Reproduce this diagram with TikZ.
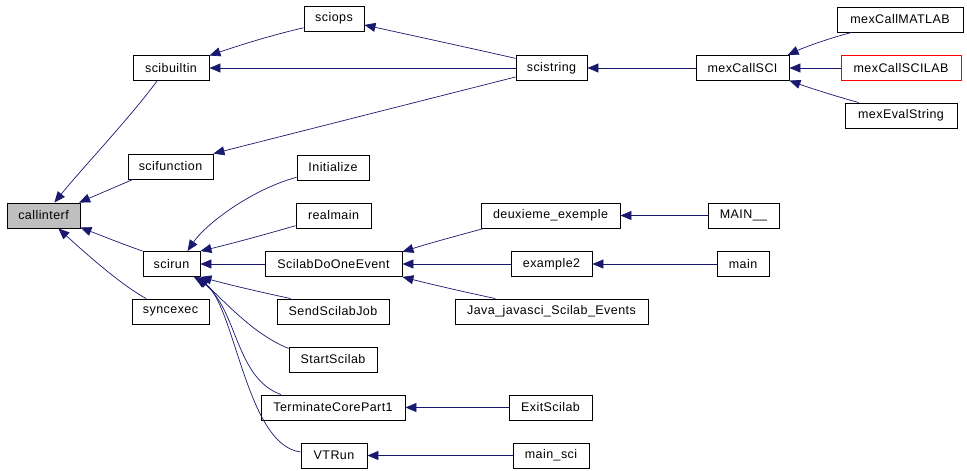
\documentclass[tikz,border=0pt]{standalone}
\usepackage{fontspec}
\setmainfont[LetterSpace=3.5]{Liberation Sans}
\usetikzlibrary{arrows.meta}
\definecolor{edgecol}{HTML}{191970}
\definecolor{graybox}{HTML}{BFBFBF}
\tikzset{
  box/.style={draw=black, line width=0.9pt, inner sep=0pt, minimum height=25pt, font=\fontsize{12.5}{15}\selectfont},
  edge/.style={draw=edgecol, line width=0.7pt, -{Triangle[length=11pt,width=9pt]}}
}
\begin{document}
\begin{tikzpicture}[x=1pt,y=-1pt]
\fill[white] (0,0) rectangle (967,471);
\useasboundingbox (0,0) rectangle (967,471);
\node[box,fill=graybox,minimum width=73pt] (callinterf) at (43.5,215.5) {callinterf};
\node[box,minimum width=76pt] (scibuiltin) at (171,68) {scibuiltin};
\node[box,minimum width=60pt] (sciops) at (334,18.5) {sciops};
\node[box,minimum width=85pt] (scifunction) at (170.5,166.5) {scifunction};
\node[box,minimum width=57pt] (scirun) at (171.5,264) {scirun};
\node[box,minimum width=77pt] (syncexec) at (170.5,311.5) {syncexec};
\node[box,minimum width=72pt] (Initialize) at (333,167.5) {Initialize};
\node[box,minimum width=75pt] (realmain) at (333.5,215.5) {realmain};
\node[box,minimum width=137pt] (ScilabDoOneEvent) at (333.5,264) {ScilabDoOneEvent};
\node[box,minimum width=112pt] (SendScilabJob) at (333,311.5) {SendScilabJob};
\node[box,minimum width=88pt] (StartScilab) at (333,359.5) {StartScilab};
\node[box,minimum width=144pt] (TerminateCorePart1) at (333,407.5) {TerminateCorePart1};
\node[box,minimum width=66pt] (VTRun) at (334,455.5) {VTRun};
\node[box,minimum width=71pt] (scistring) at (551.5,68) {scistring};
\node[box,minimum width=139pt] (deuxieme) at (550.5,215.5) {deuxieme\_exemple};
\node[box,minimum width=81pt] (example2) at (551.5,264) {example2};
\node[box,minimum width=193pt] (Java) at (551.5,311.5) {Java\_javasci\_Scilab\_Events};
\node[box,minimum width=83pt] (ExitScilab) at (550.5,407.5) {ExitScilab};
\node[box,minimum width=76pt] (mainsci) at (551,455.5) {main\_sci};
\node[box,minimum width=93pt] (mexCallSCI) at (742.5,68) {mexCallSCI};
\node[box,minimum width=71pt] (MAIN) at (743.5,215.5) {MAIN\_\_};
\node[box,minimum width=52pt] (main) at (743,264) {main};
\node[box,minimum width=126pt] (mexCallMATLAB) at (900,19.5) {mexCallMATLAB};
\node[box,draw=red,minimum width=120pt] (mexCallSCILAB) at (901,68) {mexCallSCILAB};
\node[box,minimum width=112pt] (mexEvalString) at (901,115.5) {mexEvalString};

\draw[edge] (scibuiltin.223) .. controls (128,120) and (85,165) .. (callinterf.50);
\draw[edge] (scifunction.199) -- (callinterf.20.5);
\draw[edge] (scirun.north west) .. controls (125,245) and (105,237) .. (callinterf.-18);
\draw[edge] (syncexec.152) .. controls (125,287) and (95,262) .. (callinterf.-41);
\draw[edge] (sciops.197.6) .. controls (285,32) and (255,40) .. (scibuiltin.18.4);
\draw[edge] (scistring) -- (scibuiltin);
\draw[edge] (scistring.165.8) .. controls (470,48) and (410,35) .. (sciops.-12);
\draw[edge] (scistring.194) -- (scifunction.north east);
\draw[edge] (mexCallSCI) -- (scistring);
\draw[edge] (mexCallMATLAB.195.5) .. controls (830,38) and (805,47) .. (mexCallSCI.16.4);
\draw[edge] (mexCallSCILAB) -- (mexCallSCI);
\draw[edge] (mexEvalString.163.8) .. controls (835,96) and (810,88) .. (mexCallSCI.-15.4);
\draw[edge] (Initialize.195) .. controls (250,190) and (205,225) .. (scirun.39);
\draw[edge] (realmain.195.6) .. controls (260,236) and (230,244) .. (scirun.north east);
\draw[edge] (ScilabDoOneEvent) -- (scirun);
\draw[edge] (SendScilabJob.163) .. controls (260,292) and (230,285) .. (scirun.south east);
\draw[edge] (StartScilab.166.6) .. controls (255,335) and (228,305) .. (scirun.-26);
\draw[edge] (TerminateCorePart1.166.7) .. controls (235,378) and (238,310) .. (scirun.-28);
\draw[edge] (VTRun.174) .. controls (245,445) and (235,300) .. (scirun.-30);
\draw[edge] (deuxieme.191.4) .. controls (460,235) and (430,243) .. (ScilabDoOneEvent.10.2);
\draw[edge] (example2) -- (ScilabDoOneEvent);
\draw[edge] (Java.167.9) .. controls (460,291) and (430,284) .. (ScilabDoOneEvent.south east);
\draw[edge] (MAIN) -- (deuxieme);
\draw[edge] (main) -- (example2);
\draw[edge] (ExitScilab) -- (TerminateCorePart1);
\draw[edge] (mainsci) -- (VTRun);
\end{tikzpicture}
\end{document}
